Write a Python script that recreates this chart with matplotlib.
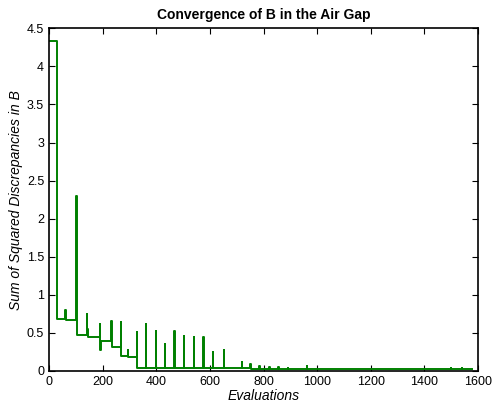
import numpy as np
import matplotlib.pyplot as plt

plt.rcParams['font.family'] = ['Liberation Sans', 'DejaVu Sans']

# breakpoints of the step curve (evaluation index, value held until next point)
evals = [0, 30, 58, 64, 100, 103, 105, 141, 142, 146, 189, 190, 194, 233, 234,
         267, 268, 295, 296, 329, 330, 362, 363, 398, 399, 432, 433, 468, 469,
         502, 503, 540, 541, 576, 577, 611, 612, 652, 653, 719, 720, 751, 752,
         785, 786, 822, 823, 855, 856, 890, 891, 961, 962, 1500, 1501, 1540,
         1541, 1577]
ssd = [4.33, 0.68, 0.80, 0.67, 2.30, 1.85, 0.47, 0.75, 0.55, 0.45, 0.62, 0.28,
       0.40, 0.66, 0.31, 0.64, 0.20, 0.28, 0.18, 0.51, 0.04, 0.62, 0.04, 0.53,
       0.04, 0.35, 0.04, 0.52, 0.04, 0.46, 0.04, 0.44, 0.04, 0.45, 0.04, 0.25,
       0.04, 0.28, 0.035, 0.12, 0.035, 0.09, 0.03, 0.06, 0.03, 0.05, 0.03, 0.05,
       0.03, 0.045, 0.03, 0.07, 0.03, 0.04, 0.03, 0.04, 0.03, 0.03]

fig = plt.figure(figsize=(4.92, 4.08), dpi=100)
ax = fig.add_axes([0.0996, 0.0907, 0.872, 0.840])
ax.step(evals, ssd, where='post', color=(0, 0.5, 0), lw=1.4)

ax.set_xlim(0, 1600)
ax.set_ylim(0, 4.5)
ax.set_xticks(np.arange(0, 1601, 200))
ax.set_yticks(np.arange(0, 4.51, 0.5))
ax.set_yticklabels(['0', '0.5', '1', '1.5', '2', '2.5', '3', '3.5', '4', '4.5'])
ax.tick_params(direction='in', top=True, right=True, labelsize=9, length=4, width=0.8)
for s in ax.spines.values():
    s.set_linewidth(1.2)

ax.set_title('Convergence of B in the Air Gap', fontsize=10, fontweight='bold', pad=7)
ax.set_xlabel('Evaluations', fontsize=10, style='italic', labelpad=1)
ax.set_ylabel('Sum of Squared Discrepancies in B', fontsize=10, style='italic', labelpad=3)

fig.savefig('out.png', dpi=100)
